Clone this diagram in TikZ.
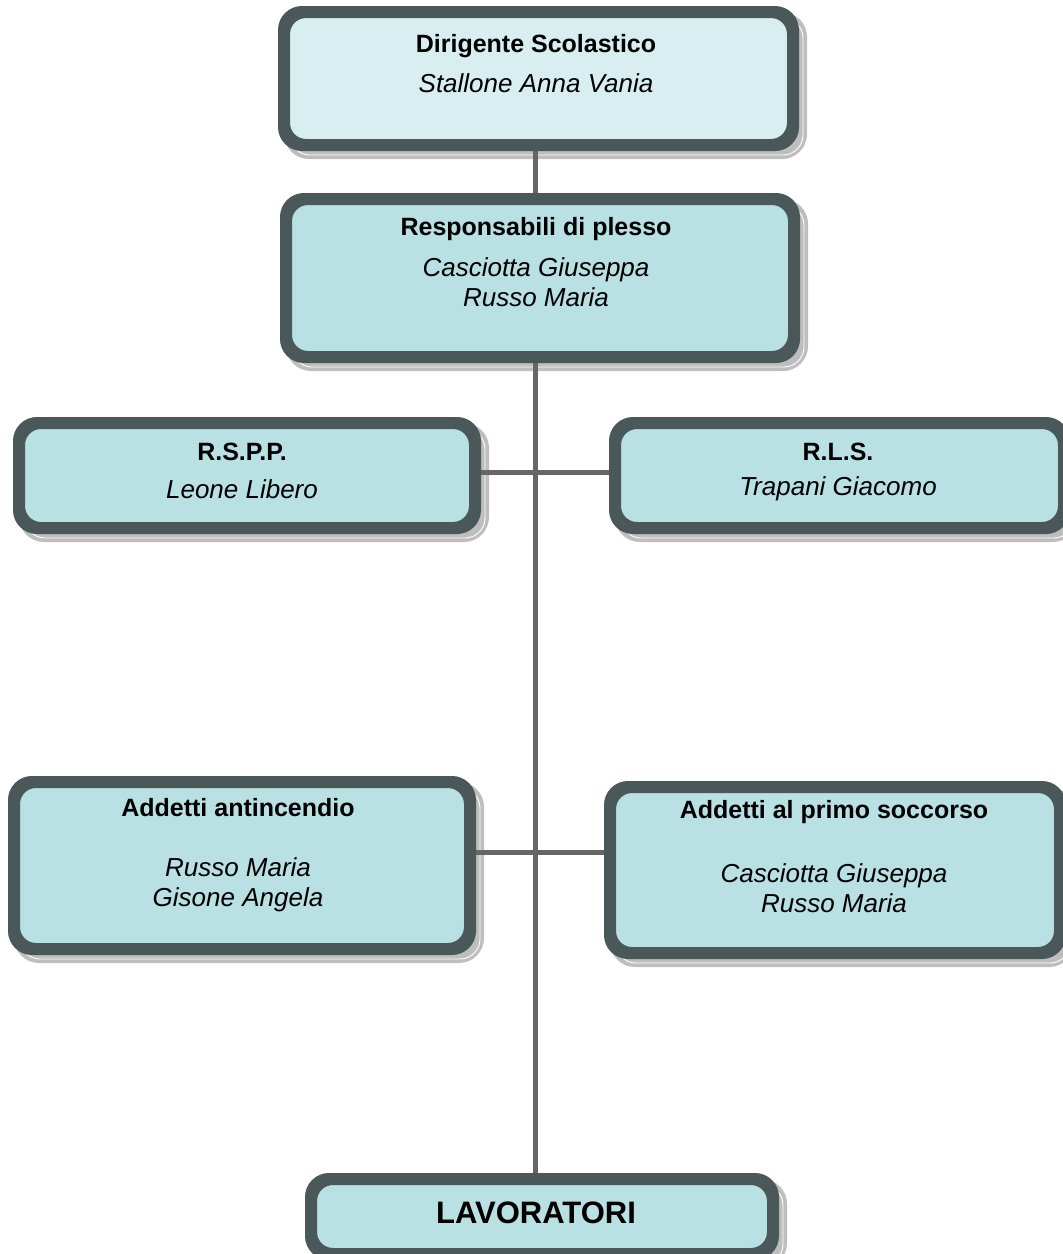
\documentclass[tikz,border=0pt]{standalone}
\usepackage{fontspec}
\setmainfont{Liberation Sans}
\usetikzlibrary{backgrounds}
\begin{document}
\begin{tikzpicture}[x=1pt,y=-1pt,
  box/.style={draw=boxline, line width=8pt, rounded corners=20pt, fill=boxfill, inner sep=0pt, anchor=north west},
  conn/.style={draw=linegray, line width=5pt},
  shadowband/.style={draw=shadowgray, fill=shadowgray, line width=10pt, rounded corners=20pt},
  shadowline/.style={draw=white, line width=0.9pt, rounded corners=20pt},
  ttl/.style={font=\fontsize{25}{29}\selectfont\bfseries},
  nm/.style={font=\fontsize{26}{30.5}\selectfont\itshape, align=center}
]
\definecolor{boxline}{HTML}{4A5859}
\definecolor{boxfill}{HTML}{B9E0E3}
\definecolor{topfill}{HTML}{D9EEF0}
\definecolor{shadowgray}{HTML}{BEBEBE}
\definecolor{linegray}{HTML}{666666}
\useasboundingbox (0,0) rectangle (1063,1254);
\coordinate (j1) at (535,472);
\coordinate (j2) at (535,852);
% boxes
\node[box, fill=topfill, minimum width=505pt, minimum height=129pt] (dir) at (282,10) {};
\node[box, minimum width=504pt, minimum height=154pt] (resp) at (284,197) {};
\node[box, minimum width=452pt, minimum height=101pt] (rspp) at (17,421) {};
\node[box, minimum width=445pt, minimum height=101pt] (rls) at (613,421) {};
\node[box, minimum width=452pt, minimum height=163pt] (anti) at (12,780) {};
\node[box, minimum width=446pt, minimum height=162pt] (pso) at (608,785) {};
\node[box, minimum width=458pt, minimum height=71pt] (lav) at (309,1177) {};
% shadows
\begin{scope}[on background layer]
\foreach \n in {dir,resp,rspp,rls,anti,pso,lav}{
  \path[shadowband] ([shift={(7,7)}]\n.north west) rectangle ([shift={(7,7)}]\n.south east);
  \path[shadowline] ([shift={(8,8)}]\n.north west) rectangle ([shift={(8,8)}]\n.south east);
}
\end{scope}
% connectors
\draw[conn] (dir.south -| j1) -- (resp.north -| j1);
\draw[conn] (resp.south -| j1) -- (lav.north -| j1);
\draw[conn] (rspp.east |- j1) -- (rls.west |- j1);
\draw[conn] (anti.east |- j2) -- (pso.west |- j2);
% redraw borders over connector ends
\foreach \n in {dir,resp,rspp,rls,anti,pso,lav}
  \draw[draw=boxline, line width=8pt, rounded corners=20pt] (\n.north west) rectangle (\n.south east);
% texts
\node[ttl] (t1) at (536,46) {Dirigente Scolastico};
\node[nm] (n1) at (536,83) {Stallone Anna Vania};
\node[ttl] (t2) at (536,229) {Responsabili di plesso};
\node[nm] (n2) at (536,282) {Casciotta Giuseppa\\Russo Maria};
\node[ttl] (t3) at (242,452) {R.S.P.P.};
\node[nm] (n3) at (242,489) {Leone Libero};
\node[ttl] (t4) at (838,452) {R.L.S.};
\node[nm] (n4) at (838,489) {Trapani Giacomo};
\node[ttl] (t5) at (238,808) {Addetti antincendio};
\node[nm] (n5) at (238,885) {Russo Maria\\Gisone Angela};
\node[ttl] (t6) at (834,812) {Addetti al primo soccorso};
\node[nm] (n6) at (834,888) {Casciotta Giuseppa\\Russo Maria};
\node[font=\fontsize{31}{36}\selectfont\bfseries] (t7) at (536,1213) {LAVORATORI};
\end{tikzpicture}
\end{document}
